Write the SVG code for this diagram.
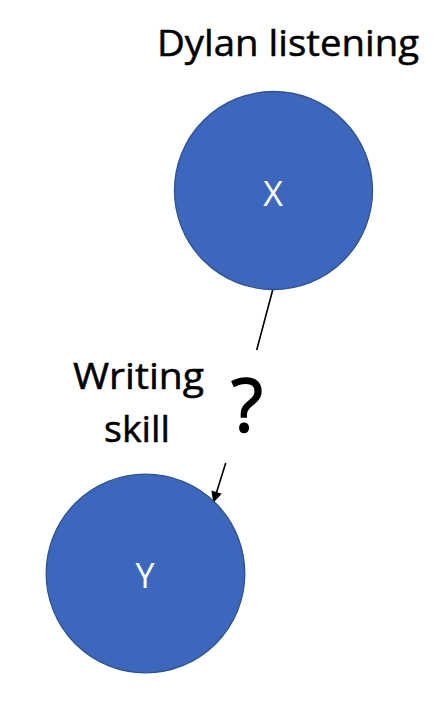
<svg xmlns="http://www.w3.org/2000/svg" width="447" height="701" viewBox="0 0 447 701">
<style>
.node{fill:#3C67BD;stroke:#2F528F;stroke-width:1.3}
.lbl{font-family:"Open Sans","Liberation Sans",sans-serif;fill:#000;stroke:#000;stroke-width:0.5}
.in{font-family:"Open Sans","Liberation Sans",sans-serif;fill:#fff;font-size:34px;text-anchor:middle}
.edge{stroke:#000;stroke-width:1.6;fill:none}
</style>
<defs>
<marker id="ah" viewBox="0 0 10 10" refX="10" refY="5" markerWidth="14" markerHeight="11" markerUnits="userSpaceOnUse" orient="auto">
<path d="M0,0 L10,5 L0,10 z" fill="#000"/>
</marker>
</defs>
<rect width="447" height="701" fill="#fff"/>
<g id="connectors">
<line class="edge" x1="272.7" y1="290" x2="256.7" y2="350"/>
<line class="edge" x1="225.7" y1="463" x2="213.3" y2="502.7" marker-end="url(#ah)"/>
</g>
<g id="nodeX">
<circle class="node" cx="273.5" cy="190.5" r="99"/>
<text class="in" x="273" y="206">X</text>
</g>
<g id="nodeY">
<circle class="node" cx="145.5" cy="573.5" r="99.3"/>
<text class="in" x="145" y="588">Y</text>
</g>
<g id="labels">
<text class="lbl" x="157" y="56" font-size="36" textLength="262" lengthAdjust="spacingAndGlyphs">Dylan listening</text>
<text class="lbl" x="73" y="389" font-size="36" textLength="131" lengthAdjust="spacingAndGlyphs">Writing</text>
<text class="lbl" x="104" y="442" font-size="36" textLength="66" lengthAdjust="spacingAndGlyphs">skill</text>
<text class="lbl" x="247" y="432" font-size="74" text-anchor="middle" style="stroke-width:1.5">?</text>
</g>
</svg>
